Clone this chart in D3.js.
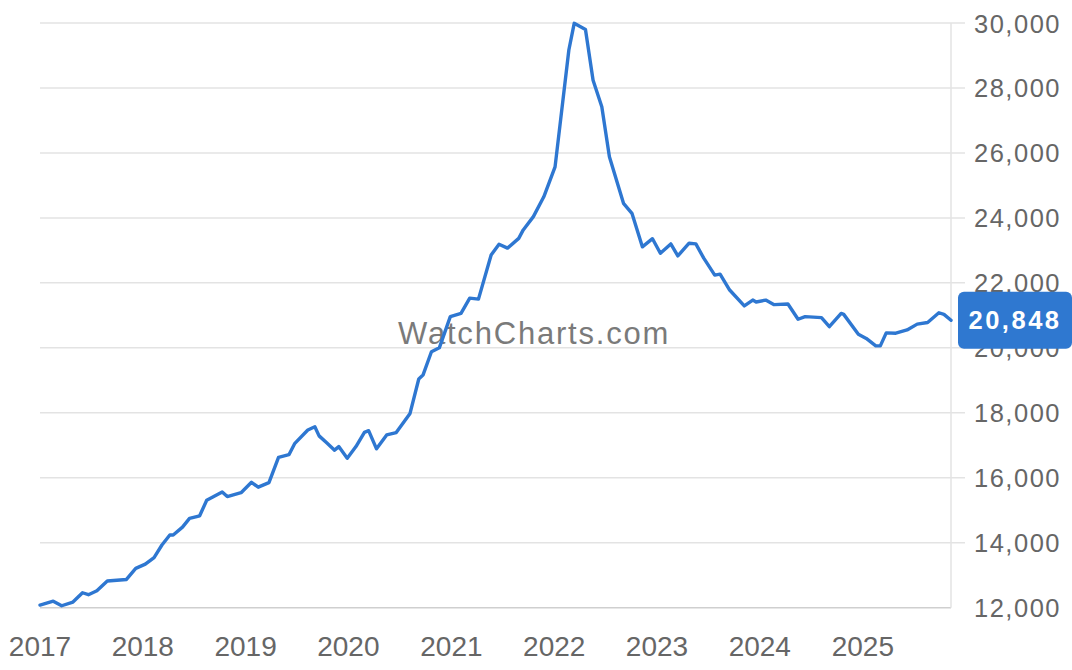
<!DOCTYPE html>
<html>
<head>
<meta charset="utf-8">
<script src="https://cdn.jsdelivr.net/npm/d3@7"></script>
<style>
  html, body { margin: 0; padding: 0; background: #fff; }
  svg { display: block; }
</style>
</head>
<body>
<svg id="chart" width="1072" height="670"></svg>
<script>
const dates = [
  "2017-01-01","2017-02-17","2017-03-19","2017-04-28","2017-06-01","2017-06-22","2017-07-22","2017-08-28",
  "2017-11-04","2017-12-07","2018-01-10","2018-02-10","2018-03-10","2018-04-07","2018-04-19","2018-05-22",
  "2018-06-16","2018-07-22","2018-08-16","2018-10-10","2018-10-28","2018-12-16","2019-01-22","2019-02-15",
  "2019-03-25","2019-04-28","2019-06-04","2019-06-25","2019-08-10","2019-09-04","2019-09-19","2019-10-16",
  "2019-11-13","2019-11-28","2019-12-28","2020-01-28","2020-02-27","2020-03-13","2020-04-10","2020-05-16",
  "2020-06-19","2020-08-07","2020-09-07","2020-09-22","2020-10-22","2020-11-19","2020-12-28","2021-02-04",
  "2021-03-07","2021-04-07","2021-05-22","2021-06-19","2021-07-19","2021-08-28","2021-09-13","2021-10-19",
  "2021-11-25","2022-01-04","2022-02-22","2022-03-13","2022-04-22","2022-05-19","2022-06-19","2022-07-16",
  "2022-09-04","2022-10-04","2022-11-10","2022-12-16","2023-01-13","2023-02-19","2023-03-16","2023-04-25",
  "2023-05-19","2023-06-16","2023-07-25","2023-08-13","2023-09-16","2023-11-07","2023-12-07","2023-12-19",
  "2024-01-22","2024-02-21","2024-04-10","2024-05-16","2024-06-10","2024-08-07","2024-09-04","2024-10-16",
  "2024-10-25","2024-12-16","2025-01-13","2025-02-16","2025-03-04","2025-03-25","2025-04-28","2025-06-07",
  "2025-07-13","2025-08-19","2025-09-28","2025-10-16","2025-11-10"
];
const prices = [
  12080,12200,12060,12175,12460,12400,12520,12820,
  12870,13210,13340,13540,13930,14240,14240,14480,
  14750,14830,15310,15560,15420,15540,15860,15710,
  15850,16630,16710,17060,17470,17570,17290,17080,
  16850,16960,16600,16960,17400,17450,16890,17320,
  17390,17980,19040,19160,19880,20000,20960,21060,
  21530,21500,22860,23190,23070,23370,23630,24040,
  24650,25570,29170,29990,29800,28240,27420,25880,
  24450,24140,23110,23360,22910,23200,22830,23220,
  23200,22760,22240,22270,21780,21290,21470,21410,
  21470,21330,21350,20880,20960,20930,20650,21060,
  21030,20420,20290,20060,20060,20460,20450,20550,
  20730,20780,21080,21030,20848
];
const yTicks = [12000,14000,16000,18000,20000,22000,24000,26000,28000,30000];
const xTickYears = [2017,2018,2019,2020,2021,2022,2023,2024,2025];
const lastValueLabel = "20,848";
const watermark = "WatchCharts.com";

const parse = d3.timeParse("%Y-%m-%d");
const data = dates.map((d, i) => ({ date: parse(d), value: prices[i] }));

const svg = d3.select("#chart");
const plotLeft = 40, plotRight = 951, plotTop = 23, plotBottom = 607.7;

const x = d3.scaleTime()
  .domain([data[0].date, data[data.length - 1].date])
  .range([plotLeft, plotRight]);
const y = d3.scaleLinear().domain([12000, 30000]).range([plotBottom, plotTop]);

// grid lines
svg.append("g").selectAll("line").data(yTicks.filter(v => v !== 12000)).join("line")
  .attr("x1", plotLeft).attr("x2", 965)
  .attr("y1", d => y(d)).attr("y2", d => y(d))
  .attr("stroke", "#e3e3e3").attr("stroke-width", 1.5);

// bottom axis line
svg.append("line")
  .attr("x1", plotLeft).attr("x2", plotRight)
  .attr("y1", y(12000)).attr("y2", y(12000))
  .attr("stroke", "#cfcfcf").attr("stroke-width", 1.5);

// right vertical line
svg.append("line")
  .attr("x1", plotRight).attr("x2", plotRight)
  .attr("y1", y(30000)).attr("y2", y(12000))
  .attr("stroke", "#e3e3e3").attr("stroke-width", 1.5);

// y labels
svg.append("g").selectAll("text").data(yTicks).join("text")
  .attr("x", 974)
  .attr("y", d => y(d) + 9.5)
  .attr("font-family", "'Liberation Sans', Arial, Helvetica, sans-serif")
  .attr("font-size", 25.5)
  .attr("letter-spacing", "1.5px")
  .attr("fill", "#666")
  .text(d => d3.format(",")(d));

// x labels
svg.append("g").selectAll("text").data(xTickYears).join("text")
  .attr("x", d => x(new Date(d, 0, 1)))
  .attr("y", 656)
  .attr("text-anchor", "middle")
  .attr("font-family", "'Liberation Sans', Arial, Helvetica, sans-serif")
  .attr("font-size", 28)
  .attr("fill", "#666")
  .text(d => d);

// watermark
svg.append("text")
  .attr("x", 398)
  .attr("y", 344)
  .attr("font-family", "'Liberation Sans', Arial, Helvetica, sans-serif")
  .attr("font-size", 31)
  .attr("letter-spacing", "1.8px")
  .attr("fill", "#7a7a7a")
  .text(watermark);

// line
const line = d3.line().x(d => x(d.date)).y(d => y(d.value));
svg.append("path")
  .datum(data)
  .attr("fill", "none")
  .attr("stroke", "#2e77d1")
  .attr("stroke-width", 3.4)
  .attr("stroke-linejoin", "round")
  .attr("stroke-linecap", "round")
  .attr("d", line);

// last value badge
const last = data[data.length - 1];
const cy = y(last.value);
svg.append("rect")
  .attr("x", 958).attr("y", cy - 28.5)
  .attr("width", 114).attr("height", 57)
  .attr("rx", 6).attr("ry", 6)
  .attr("fill", "#2f78d0");
svg.append("text")
  .attr("x", 1015)
  .attr("y", cy + 8.5)
  .attr("text-anchor", "middle")
  .attr("font-family", "'Liberation Sans', Arial, Helvetica, sans-serif")
  .attr("font-weight", "bold")
  .attr("font-size", 25.5)
  .attr("letter-spacing", "2.5px")
  .attr("fill", "#fff")
  .text(lastValueLabel);
</script>
</body>
</html>
